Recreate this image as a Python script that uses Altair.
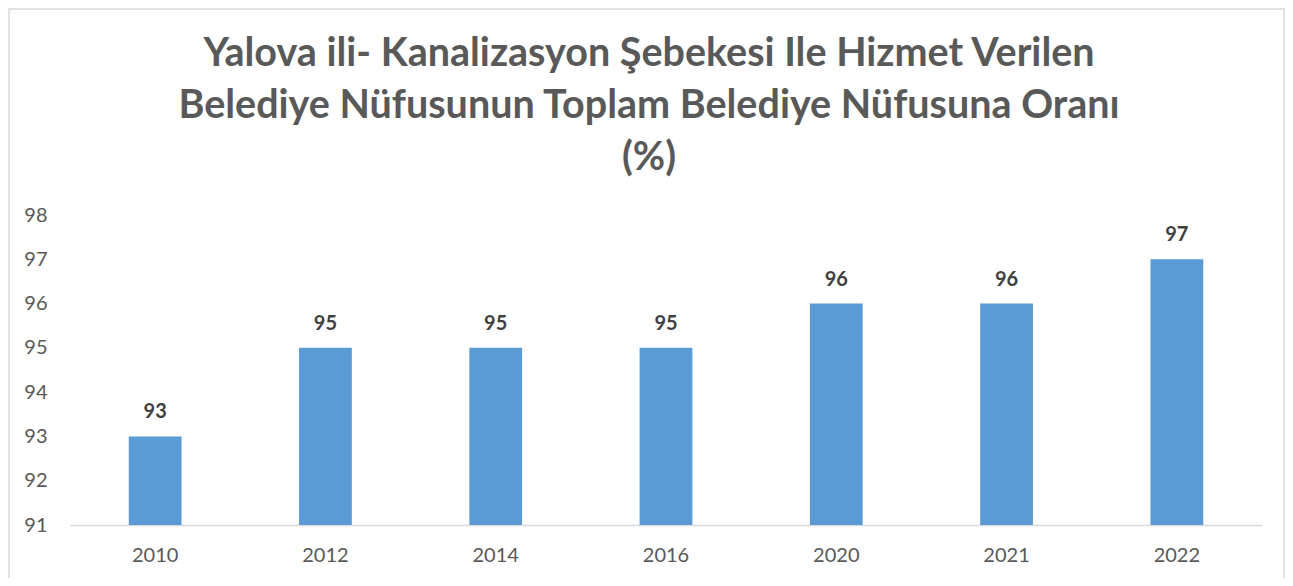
import altair as alt
import pandas as pd

years = ["2010", "2012", "2014", "2016", "2020", "2021", "2022"]
values = [93, 95, 95, 95, 96, 96, 97]
y_ticks = [91, 92, 93, 94, 95, 96, 97, 98]
title_lines = [
    "Yalova ili- Kanalizasyon Şebekesi Ile Hizmet Verilen",
    "Belediye Nüfusunun Toplam Belediye Nüfusuna Oranı",
    "(%)",
]

df = pd.DataFrame({"year": years, "value": values})

W, H = 1192, 310
FONT = "Lato"

x_enc = alt.X(
    "year:N",
    sort=years,
    title=None,
    scale=alt.Scale(paddingInner=0.69, paddingOuter=0.345),
    axis=alt.Axis(
        labelAngle=0,
        labelFont=FONT,
        labelFontSize=20,
        labelColor="#595959",
        labelPadding=20,
        ticks=False,
        domainColor="#d9d9d9",
        domainWidth=1.5,
    ),
)
y_enc = alt.Y(
    "value:Q",
    title=None,
    scale=alt.Scale(domain=[91, 98], nice=False, zero=False),
    axis=alt.Axis(
        values=y_ticks,
        grid=False,
        domain=False,
        ticks=False,
        labelFont=FONT,
        labelFontSize=20,
        labelColor="#595959",
        labelPadding=23,
    ),
)

base = alt.Chart(df)

bars = base.mark_bar(color="#5B9BD5").encode(x=x_enc, y=y_enc, y2=alt.datum(91))

labels = base.mark_text(
    font=FONT, fontSize=20, fontWeight="bold", color="#404040",
    baseline="alphabetic", dy=-18,
).encode(x=alt.X("year:N", sort=years), y="value:Q", text="value:Q")

border = alt.Chart(pd.DataFrame({"a": [0]})).mark_rect(
    fill=None, stroke="#d9d9d9", strokeWidth=1.5
).encode(
    x=alt.value(-61), x2=alt.value(W + 22),
    y=alt.value(-206), y2=alt.value(H + 80),
)

chart = (
    alt.layer(border, bars, labels)
    .properties(
        width=W,
        height=H,
        background="white",
        autosize=alt.AutoSizeParams(type="none"),
        padding={"left": 62, "top": 207, "right": 23, "bottom": 53},
        title=alt.TitleParams(
            text=title_lines,
            font=FONT,
            fontSize=39.5,
            fontWeight="bold",
            color="#595959",
            lineHeight=52,
            anchor="middle",
            offset=-170,
            dx=-17,
        ),
    )
    .configure_view(strokeWidth=0, stroke="transparent")
)

chart.save("out.html", embed_options={"renderer": "svg", "actions": False})
